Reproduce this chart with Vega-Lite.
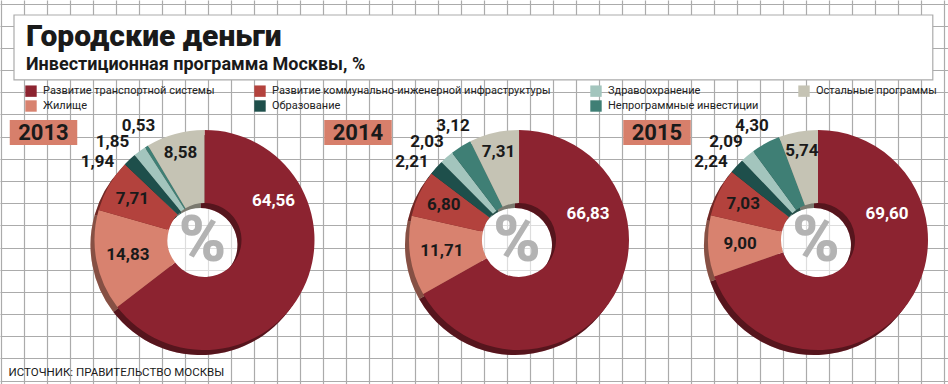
{
  "$schema": "https://vega.github.io/schema/vega-lite/v6.json",
  "width": 948,
  "height": 384,
  "autosize": {"type": "none"},
  "padding": 0,
  "background": "white",
  "title": {
    "text": "Городские деньги",
    "subtitle": "Инвестиционная программа Москвы, %",
    "anchor": "start",
    "frame": "group",
    "offset": -74,
    "dx": 26,
    "font": "Roboto",
    "fontSize": 30,
    "fontWeight": 900,
    "color": "#1a1a1a",
    "subtitleFont": "Roboto",
    "subtitleFontSize": 18,
    "subtitleFontWeight": "bold",
    "subtitleColor": "#1a1a1a",
    "subtitlePadding": 4
  },
  "data": {
    "values": [
      {"year": 2013, "cat": "Развитие транспортной системы", "value": 64.56, "ord": 1},
      {"year": 2013, "cat": "Жилище", "value": 14.83, "ord": 2},
      {"year": 2013, "cat": "Развитие коммунально-инженерной инфраструктуры", "value": 7.71, "ord": 3},
      {"year": 2013, "cat": "Образование", "value": 1.94, "ord": 4},
      {"year": 2013, "cat": "Здравоохранение", "value": 1.85, "ord": 5},
      {"year": 2013, "cat": "Непрограммные инвестиции", "value": 0.53, "ord": 6},
      {"year": 2013, "cat": "Остальные программы", "value": 8.58, "ord": 7},
      {"year": 2014, "cat": "Развитие транспортной системы", "value": 66.83, "ord": 1},
      {"year": 2014, "cat": "Жилище", "value": 11.71, "ord": 2},
      {"year": 2014, "cat": "Развитие коммунально-инженерной инфраструктуры", "value": 6.80, "ord": 3},
      {"year": 2014, "cat": "Образование", "value": 2.21, "ord": 4},
      {"year": 2014, "cat": "Здравоохранение", "value": 2.03, "ord": 5},
      {"year": 2014, "cat": "Непрограммные инвестиции", "value": 3.12, "ord": 6},
      {"year": 2014, "cat": "Остальные программы", "value": 7.31, "ord": 7},
      {"year": 2015, "cat": "Развитие транспортной системы", "value": 69.60, "ord": 1},
      {"year": 2015, "cat": "Жилище", "value": 9.00, "ord": 2},
      {"year": 2015, "cat": "Развитие коммунально-инженерной инфраструктуры", "value": 7.03, "ord": 3},
      {"year": 2015, "cat": "Образование", "value": 2.24, "ord": 4},
      {"year": 2015, "cat": "Здравоохранение", "value": 2.09, "ord": 5},
      {"year": 2015, "cat": "Непрограммные инвестиции", "value": 4.30, "ord": 6},
      {"year": 2015, "cat": "Остальные программы", "value": 5.74, "ord": 7}
    ]
  },
  "transform": [
    {"stack": "value", "groupby": ["year"], "sort": [{"field": "ord", "order": "ascending"}], "as": ["v0", "v1"]}
  ],
  "config": {
    "view": {"stroke": null},
    "locale": {"number": {"decimal": ",", "thousands": "\u00a0", "grouping": [3], "currency": ["", ""]}},
    "legend": {
      "orient": "none",
      "legendX": 25,
      "legendY": 85,
      "columns": 4,
      "direction": "horizontal",
      "symbolType": "square",
      "symbolSize": 130,
      "symbolStrokeWidth": 0,
      "symbolOpacity": 1,
      "labelFont": "Roboto",
      "labelFontSize": 11,
      "labelColor": "#222222",
      "labelLimit": 400,
      "labelOffset": 6,
      "columnPadding": 39,
      "rowPadding": 3,
      "padding": 0
    }
  },
  "layer": [
    {
      "transform": [{"aggregate": [{"op": "count", "as": "n"}]}],
      "mark": {"type": "rect", "fill": "white", "stroke": "#ababab", "strokeWidth": 1.2},
      "encoding": {
        "x": {
          "datum": 0.552,
          "type": "quantitative",
          "scale": {"domain": [-0.0565, 41.161], "nice": false, "zero": false},
          "axis": {
            "grid": true, "gridColor": "#ababab", "gridWidth": 1.2, "gridOpacity": 1,
            "labels": false, "ticks": false, "domain": false, "tickCount": 45,
            "title": "ИСТОЧНИК: ПРАВИТЕЛЬСТВО МОСКВЫ",
            "titleAnchor": "start", "titleAlign": "left", "titleBaseline": "alphabetic",
            "titleX": 8, "titleY": -9,
            "titleFont": "Roboto", "titleFontSize": 11.5, "titleFontWeight": "normal", "titleColor": "#1a1a1a"
          }
        },
        "x2": {"datum": 40.5},
        "y": {
          "datum": 0.514,
          "type": "quantitative",
          "scale": {"domain": [-0.1623, 17.151], "reverse": true, "nice": false, "zero": false},
          "axis": {
            "grid": true, "gridColor": "#ababab", "gridWidth": 1.2, "gridOpacity": 1,
            "labels": false, "ticks": false, "domain": false, "tickCount": 20, "title": null
          }
        },
        "y2": {"datum": 3.44}
      }
    },
    {
      "encoding": {
        "x": {
          "field": "year",
          "type": "quantitative",
          "stack": null,
          "scale": {"type": "linear", "domain": [2013, 2014, 2015], "range": [204.5, 519, 818], "nice": false, "zero": false},
          "axis": null
        },
        "y": {
          "datum": 10.658,
          "type": "quantitative",
          "stack": null,
          "scale": {"domain": [-0.1623, 17.151], "reverse": true, "nice": false, "zero": false},
          "axis": null
        }
      },
      "layer": [
        {
          "transform": [{"aggregate": [{"op": "count", "as": "n"}], "groupby": ["year"]}],
          "mark": {"type": "point", "shape": "circle", "size": 5476, "filled": true, "fill": "white", "opacity": 0.6, "strokeWidth": 0}
        },
        {
          "mark": {"type": "arc", "innerRadius": 37, "outerRadius": 110, "xOffset": -4, "yOffset": 5},
          "encoding": {
            "theta": {"field": "v0", "type": "quantitative", "stack": null, "scale": {"domain": [0, 100]}},
            "theta2": {"field": "v1"},
            "color": {"field": "cat", "type": "nominal"}
          }
        },
        {
          "mark": {"type": "arc", "innerRadius": 37, "outerRadius": 110, "xOffset": -4, "yOffset": 5, "fill": "black", "opacity": 0.38},
          "encoding": {
            "theta": {"field": "v0", "type": "quantitative", "stack": null, "scale": {"domain": [0, 100]}},
            "theta2": {"field": "v1"}
          }
        },
        {
          "mark": {"type": "arc", "innerRadius": 37, "outerRadius": 110},
          "encoding": {
            "theta": {"field": "v0", "type": "quantitative", "stack": null, "scale": {"domain": [0, 100]}},
            "theta2": {"field": "v1"},
            "color": {
              "field": "cat", "type": "nominal", "title": null,
              "scale": {
                "domain": ["Развитие транспортной системы", "Развитие коммунально-инженерной инфраструктуры", "Здравоохранение", "Остальные программы", "Жилище", "Образование", "Непрограммные инвестиции"],
                "range": ["#8c2330", "#b3423d", "#a3c5bd", "#c5c3b4", "#d8826f", "#1e4f4b", "#3f7f75"]
              }
            }
          }
        },
        {
          "transform": [{"aggregate": [{"op": "count", "as": "n"}], "groupby": ["year"]}],
          "mark": {"type": "point", "shape": "M-1,-0.37H1V0.37H-1Z", "size": 4556, "filled": true, "fill": "#d77f6b", "opacity": 1, "strokeWidth": 0, "xOffset": -161, "yOffset": -107.5}
        },
        {
          "transform": [{"aggregate": [{"op": "count", "as": "n"}], "groupby": ["year"]}],
          "mark": {"type": "text", "font": "Roboto", "fontSize": 22, "fontWeight": "bold", "color": "#1a1a1a", "align": "center", "baseline": "middle", "dx": -161, "dy": -106.5},
          "encoding": {"text": {"field": "year", "type": "nominal"}}
        },
        {
          "transform": [{"aggregate": [{"op": "count", "as": "n"}], "groupby": ["year"]}],
          "mark": {"type": "text", "text": "%", "font": "Roboto", "fontSize": 64, "fontWeight": 900, "color": "#b3b3b3", "align": "center", "baseline": "middle", "dx": -2, "dy": 2}
        },
        {
          "transform": [
            {"fold": ["v0", "v1"], "as": ["edge_key", "edge"]},
            {"aggregate": [{"op": "mean", "field": "edge", "as": "mid"}], "groupby": ["year", "cat", "value"]},
            {"filter": "datum.cat === 'Жилище'"}
          ],
          "mark": {"type": "text", "radius": 78, "font": "Roboto", "fontSize": 17, "fontWeight": "bold", "color": "#1a1a1a", "align": "center", "baseline": "middle"},
          "encoding": {
            "theta": {"field": "mid", "type": "quantitative", "stack": null, "scale": {"domain": [0, 100]}},
            "text": {"field": "value", "type": "quantitative", "format": ".2f"}
          }
        },
        {
          "transform": [
            {"fold": ["v0", "v1"], "as": ["edge_key", "edge"]},
            {"aggregate": [{"op": "mean", "field": "edge", "as": "mid"}], "groupby": ["year", "cat", "value"]},
            {"filter": "datum.cat === 'Развитие коммунально-инженерной инфраструктуры'"}
          ],
          "mark": {"type": "text", "radius": 83, "font": "Roboto", "fontSize": 17, "fontWeight": "bold", "color": "#1a1a1a", "align": "center", "baseline": "middle"},
          "encoding": {
            "theta": {"field": "mid", "type": "quantitative", "stack": null, "scale": {"domain": [0, 100]}},
            "text": {"field": "value", "type": "quantitative", "format": ".2f"}
          }
        },
        {
          "transform": [
            {"fold": ["v0", "v1"], "as": ["edge_key", "edge"]},
            {"aggregate": [{"op": "mean", "field": "edge", "as": "mid"}], "groupby": ["year", "cat", "value"]},
            {"filter": "datum.cat === 'Остальные программы'"}
          ],
          "mark": {"type": "text", "radius": 90, "font": "Roboto", "fontSize": 17, "fontWeight": "bold", "color": "#1a1a1a", "align": "center", "baseline": "middle"},
          "encoding": {
            "theta": {"field": "mid", "type": "quantitative", "stack": null, "scale": {"domain": [0, 100]}},
            "text": {"field": "value", "type": "quantitative", "format": ".2f"}
          }
        },
        {
          "transform": [{"filter": "datum.cat === 'Развитие транспортной системы' && datum.year === 2013"}],
          "mark": {"type": "text", "font": "Roboto", "fontSize": 17, "fontWeight": "bold", "color": "white", "align": "center", "baseline": "middle", "dx": 69, "dy": -39},
          "encoding": {"text": {"field": "value", "type": "quantitative", "format": ".2f"}}
        },
        {
          "transform": [{"filter": "datum.cat === 'Развитие транспортной системы' && datum.year !== 2013"}],
          "mark": {"type": "text", "font": "Roboto", "fontSize": 17, "fontWeight": "bold", "color": "white", "align": "center", "baseline": "middle", "dx": 69, "dy": -25.5},
          "encoding": {"text": {"field": "value", "type": "quantitative", "format": ".2f"}}
        },
        {
          "transform": [{"filter": "datum.cat === 'Образование'"}],
          "mark": {"type": "text", "font": "Roboto", "fontSize": 17, "fontWeight": "bold", "color": "#1a1a1a", "align": "center", "baseline": "middle", "dx": -107, "dy": -77.5},
          "encoding": {"text": {"field": "value", "type": "quantitative", "format": ".2f"}}
        },
        {
          "transform": [{"filter": "datum.cat === 'Здравоохранение'"}],
          "mark": {"type": "text", "font": "Roboto", "fontSize": 17, "fontWeight": "bold", "color": "#1a1a1a", "align": "center", "baseline": "middle", "dx": -92, "dy": -97.5},
          "encoding": {"text": {"field": "value", "type": "quantitative", "format": ".2f"}}
        },
        {
          "transform": [{"filter": "datum.cat === 'Непрограммные инвестиции'"}],
          "mark": {"type": "text", "font": "Roboto", "fontSize": 17, "fontWeight": "bold", "color": "#1a1a1a", "align": "center", "baseline": "middle", "dx": -66, "dy": -114},
          "encoding": {"text": {"field": "value", "type": "quantitative", "format": ".2f"}}
        }
      ]
    }
  ],
  "resolve": {"scale": {"x": "independent", "y": "independent"}}
}
